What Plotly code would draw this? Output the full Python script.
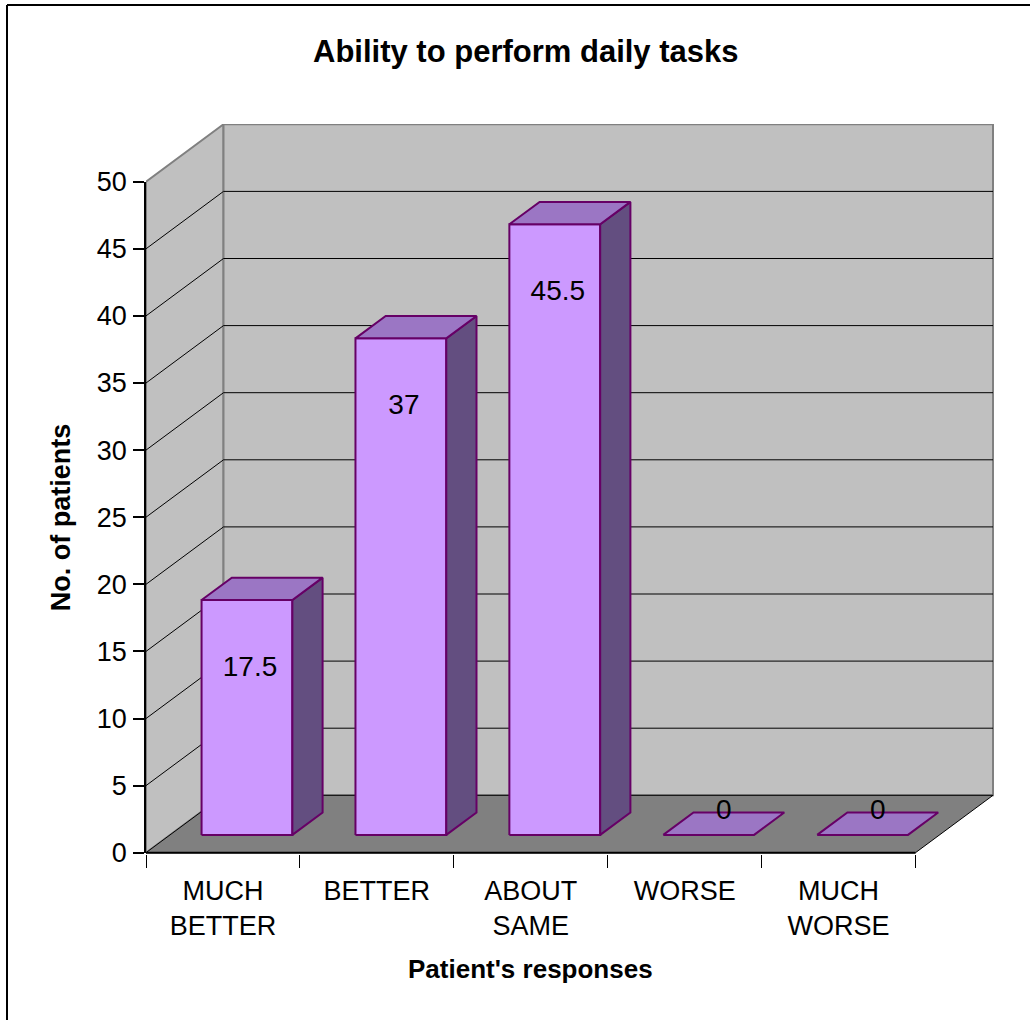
import plotly.graph_objects as go

# ---- data -------------------------------------------------------------
categories = ["MUCH BETTER", "BETTER", "ABOUT SAME", "WORSE", "MUCH WORSE"]
tick_labels = ["MUCH<br>BETTER", "BETTER", "ABOUT<br>SAME", "WORSE", "MUCH<br>WORSE"]
patients = [17.5, 37, 45.5, 0, 0]
value_ticks = [0, 5, 10, 15, 20, 25, 30, 35, 40, 45, 50]
value_max = 50

# ---- page / projection settings ----------------------------------------
W, H = 1030, 1020
L, R, T, B = 146, 36, 124, 166
PW, PH = W - L - R, H - T - B
X_UNIT_PX = 153.9          # pixels per category
Y_UNIT_PX = 13.42          # pixels per patient
ZERO_PX = 852.7            # page row of value 0 on the front plane

DX = 77.5 / X_UNIT_PX      # oblique depth offset (full floor depth), x
DY = 57.4 / Y_UNIT_PX      # oblique depth offset (full floor depth), y
BAR_HALF = 0.295           # half bar width in category units
D_FRONT, D_BACK = 0.31, 0.70   # bar depth span inside the floor

x_lo = -0.5
x_hi = x_lo + PW / X_UNIT_PX
y_lo = -((H - B) - ZERO_PX) / Y_UNIT_PX
y_hi = y_lo + PH / Y_UNIT_PX

FONT = "Arial, 'Liberation Sans', sans-serif"
n = len(categories)
left, right = -0.5, n - 0.5

WALL = "#C0C0C0"
WALL_EDGE = "#808080"
FLOOR = "#808080"
BAR_FRONT = "#CC99FF"
BAR_SIDE = "#634E80"
BAR_TOP = "#9B76C4"
BAR_EDGE = "#660066"


def px_x(px):
    return (px - L) / PW


def px_y(py):
    return (H - B - py) / PH


def proj(c, v, d):
    """Oblique projection of (category, value, depth) into the axes."""
    return c + DX * d, v + DY * d


def polygon(pts, fill, edge, width):
    xs = [p[0] for p in pts] + [pts[0][0]]
    ys = [p[1] for p in pts] + [pts[0][1]]
    return go.Scatter(x=xs, y=ys, mode="lines", fill="toself", fillcolor=fill,
                      line=dict(color=edge, width=width), hoverinfo="skip",
                      showlegend=False)


def segments(pairs, color, width):
    xs, ys = [], []
    for (a, b) in pairs:
        xs += [a[0], b[0], None]
        ys += [a[1], b[1], None]
    return go.Scatter(x=xs, y=ys, mode="lines", line=dict(color=color, width=width),
                      hoverinfo="skip", showlegend=False)


fig = go.Figure()

# walls and floor
fig.add_trace(polygon([proj(left, 0, 0), proj(left, value_max, 0),
                       proj(left, value_max, 1), proj(left, 0, 1)],
                      WALL, WALL_EDGE, 2))
fig.add_trace(polygon([proj(left, 0, 1), proj(left, value_max, 1),
                       proj(right, value_max, 1), proj(right, 0, 1)],
                      WALL, WALL_EDGE, 2))
fig.add_trace(polygon([proj(left, 0, 0), proj(right, 0, 0),
                       proj(right, 0, 1), proj(left, 0, 1)],
                      FLOOR, "#000000", 1))

# gridlines on the back wall and the side wall
grid = []
for v in value_ticks[1:-1]:
    grid.append((proj(left, v, 0), proj(left, v, 1)))
    grid.append((proj(left, v, 1), proj(right, v, 1)))
fig.add_trace(segments(grid, "#000000", 1))

# front edge of the floor
fig.add_trace(segments([(proj(left, 0, 0), proj(right, 0, 0))], "#000000", 2))

# 3-D bars
for i, v in enumerate(patients):
    fl = proj(i - BAR_HALF, 0, D_FRONT)
    fr = proj(i + BAR_HALF, 0, D_FRONT)
    br = proj(i + BAR_HALF, 0, D_BACK)
    bl = proj(i - BAR_HALF, 0, D_BACK)
    up = lambda p: (p[0], p[1] + v)
    if v > 0:
        fig.add_trace(polygon([fl, fr, up(fr), up(fl)], BAR_FRONT, BAR_EDGE, 2))
        fig.add_trace(polygon([fr, br, up(br), up(fr)], BAR_SIDE, BAR_EDGE, 2))
    fig.add_trace(polygon([up(fl), up(fr), up(br), up(bl)], BAR_TOP, BAR_EDGE, 2))

# value labels
lx, ly = [], []
for i, v in enumerate(patients):
    if v > 0:
        x, y = proj(i + 0.02, v - 5.1, D_FRONT)
    else:
        x, y = proj(i, v, (D_FRONT + D_BACK) / 2)
        y += 0.9
    lx.append(x)
    ly.append(y)
fig.add_trace(go.Scatter(x=lx, y=ly, mode="text",
                         text=[f"{v:g}" for v in patients],
                         textposition="middle center",
                         textfont=dict(family=FONT, size=28, color="#000000"),
                         cliponaxis=False, hoverinfo="skip", showlegend=False))

# carrier for the value axis drawn on the front plane
fig.add_trace(go.Scatter(x=[left], y=[0], yaxis="y2", mode="markers",
                         marker=dict(opacity=0), hoverinfo="skip", showlegend=False))

d0 = (0 - y_lo) / (y_hi - y_lo)
d1 = (value_max - y_lo) / (y_hi - y_lo)

fig.update_layout(
    template=go.layout.Template(),
    width=W, height=H,
    margin=dict(l=L, r=R, t=T, b=B, autoexpand=False),
    paper_bgcolor="#FFFFFF",
    plot_bgcolor="rgba(0,0,0,0)",
    showlegend=False,
    xaxis=dict(range=[x_lo, x_hi], tickmode="array",
               tickvals=list(range(n)), ticktext=tick_labels,
               ticks="", showgrid=False, zeroline=False, showline=False,
               automargin=False, ticklabelstandoff=18,
               tickfont=dict(family=FONT, size=27, color="#000000"),
               minor=dict(tickmode="linear", tick0=-0.5, dtick=1, ticks="outside",
                          ticklen=13, tickwidth=1, tickcolor="#000000",
                          showgrid=False)),
    yaxis=dict(range=[y_lo, y_hi], showticklabels=False, ticks="",
               showgrid=False, zeroline=False, showline=False, automargin=False),
    yaxis2=dict(range=[0, value_max], domain=[d0, d1], anchor="x",
                tickmode="array", tickvals=value_ticks,
                ticks="outside", ticklen=11, tickwidth=1.5, tickcolor="#000000",
                showline=True, linecolor="#000000", linewidth=1.5,
                showgrid=False, zeroline=False, automargin=False,
                ticklabelstandoff=1,
                tickfont=dict(family=FONT, size=27, color="#000000")),
    annotations=[
        dict(text="<b>Ability to perform daily tasks</b>", xref="paper", yref="paper",
             x=px_x(526), y=px_y(52), xanchor="center", yanchor="middle",
             showarrow=False, font=dict(family=FONT, size=31, color="#000000")),
        dict(text="<b>No. of patients</b>", xref="paper", yref="y2",
             x=px_x(61), y=value_max / 2, xanchor="center", yanchor="middle",
             textangle=-90, showarrow=False,
             font=dict(family=FONT, size=27, color="#000000")),
        dict(text="<b>Patient's responses</b>", xref="paper", yref="paper",
             x=px_x(530), y=px_y(969), xanchor="center", yanchor="middle",
             showarrow=False, font=dict(family=FONT, size=26, color="#000000")),
    ],
    shapes=[
        dict(type="line", xref="paper", yref="paper", x0=px_x(7), y0=px_y(5),
             x1=px_x(W + 10), y1=px_y(5), line=dict(color="#000000", width=2)),
        dict(type="line", xref="paper", yref="paper", x0=px_x(7), y0=px_y(5),
             x1=px_x(7), y1=px_y(H + 10), line=dict(color="#000000", width=2)),
    ],
)

fig.write_html("out.html")
